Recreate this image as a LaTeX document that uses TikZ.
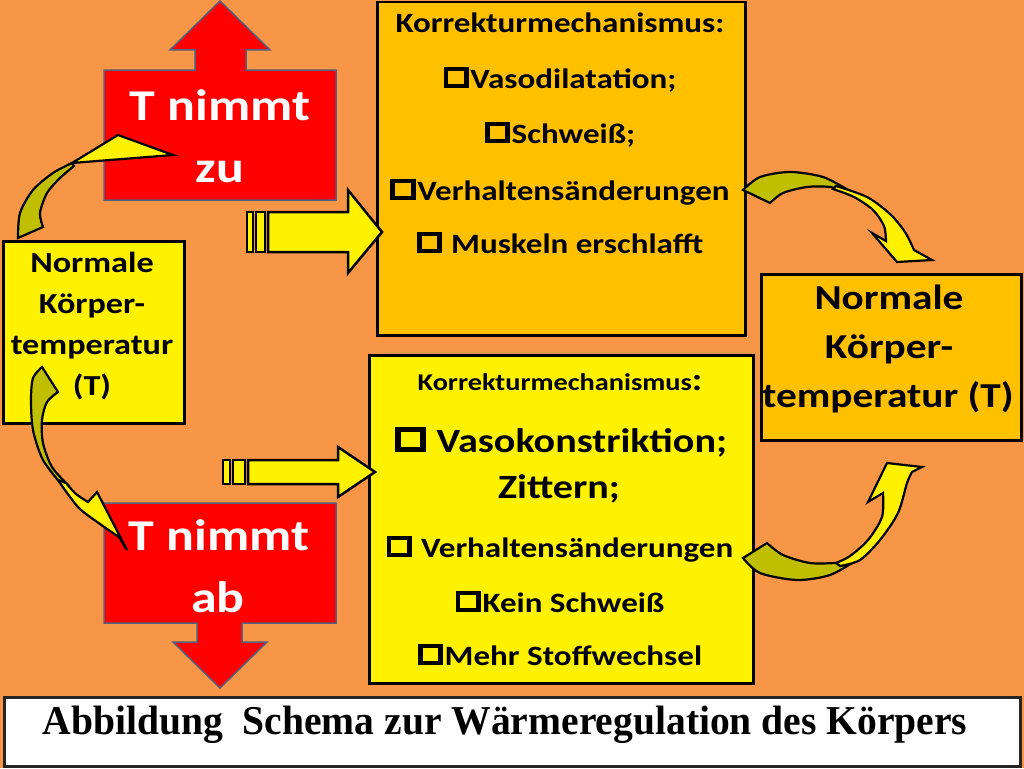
\documentclass[tikz,border=0pt]{standalone}
\usepackage{fontspec}
\setmainfont{Carlito}[FakeStretch=1.18]
\newfontfamily\capfont{Liberation Serif}[FakeStretch=0.965]
\newcommand\fs[1]{\fontsize{#1}{#1}\selectfont\bfseries}
\newcommand\sq{\hbox{\vrule width .17em height .74em\vbox{\hrule height .15em width .56em\vskip .44em\hrule height .15em width .56em}\vrule width .17em height .74em}\kern.06em}
\definecolor{bg}{RGB}{247,150,70}
\definecolor{amber}{RGB}{255,192,0}
\definecolor{bandolive}{RGB}{191,191,0}
\definecolor{redline}{RGB}{85,95,125}
\begin{document}
\begin{tikzpicture}[x=1pt,y=-1pt,
  box/.style={draw=black, line width=2.5pt, inner sep=0pt, anchor=north west},
  txt/.style={anchor=base, inner sep=0pt},
  redarrow/.style={fill=red, draw=redline, line width=1.5pt, line join=miter},
  flat/.style={fill=yellow, draw=black, line width=2.5pt, line join=miter},
  band/.style={draw=black, line width=2.2pt, line join=miter}]
\fill[bg] (0,0) rectangle (1024,768);
\useasboundingbox (0,0) rectangle (1024,768);

% boxes
\node[box, fill=amber, minimum width=368pt, minimum height=333pt] (topbox) at (376,1) {};
\node[box, fill=yellow, minimum width=384pt, minimum height=328pt] (botbox) at (368,354) {};
\node[box, fill=yellow, minimum width=181pt, minimum height=182pt] (leftbox) at (2,240) {};
\node[box, fill=amber, minimum width=260pt, minimum height=166pt] (rightbox) at (760,273) {};
\node[box, fill=white, draw=black!85, minimum width=1016pt, minimum height=69pt] (capbox) at (3,696) {};

% red block arrows
\draw[redarrow] (104,70) -- (195,70) -- (195,50) -- (170,50) -- (220,1) -- (270,50) -- (246,50) -- (246,70) -- (336,70) -- (336,200) -- (104,200) -- cycle;
\draw[redarrow] (104,503) -- (336,503) -- (336,623) -- (242,623) -- (242,642) -- (267,642) -- (220,688) -- (173,642) -- (197,642) -- (197,623) -- (104,623) -- cycle;

% striped arrows
\draw[flat] (247,212) rectangle (253,252);
\draw[flat] (256,212) rectangle (265,252);
\draw[flat] (268,212) -- (348,212) -- (348,190) -- (382,232) -- (348,273) -- (348,252) -- (268,252) -- cycle;
\draw[flat] (223,460) rectangle (230,484);
\draw[flat] (233,460) rectangle (245,484);
\draw[flat] (248,460) -- (338,460) -- (338,447) -- (375,472) -- (338,497) -- (338,484) -- (248,484) -- cycle;

% curved arrow 1 (left box -> T nimmt zu)
\filldraw[band, fill=bandolive] plot[smooth] coordinates {(18,238) (20,213) (33,190) (53,173) (72,163)} -- plot[smooth] coordinates {(74,166) (60,178) (47,193) (40,213) (43,227)} -- cycle;
\filldraw[band, fill=yellow] (72,163) -- (118,135) -- (173,155) -- cycle;

% curved arrow 2 (left box -> T nimmt ab)
\filldraw[band, fill=bandolive] plot[smooth] coordinates {(42,367) (33,378) (31,400) (33,430) (43,460) (62,485)} -- plot[smooth] coordinates {(68,485) (52,467) (43,443) (42,420) (47,402) (58,392)} -- cycle;
\filldraw[band, fill=yellow] plot[smooth] coordinates {(58,480) (78,507) (100,524) (119,537)} -- (127,550) -- (97,492) -- (88,502) -- plot[smooth] coordinates {(88,502) (76,494) (66,483)} -- cycle;

% curved arrow 3 (top box -> right box)
\filldraw[band, fill=bandolive] plot[smooth] coordinates {(743,190) (760,177) (790,172) (823,177) (848,190)} -- plot[smooth] coordinates {(846,192) (830,187) (807,187) (783,193) (770,203)} -- cycle;
\filldraw[band, fill=yellow] plot[smooth] coordinates {(836,186) (867,197) (890,214) (905,232) (914,250)} -- (932,260) -- (897,262) -- (872,233) -- (886,241) -- plot[smooth] coordinates {(886,241) (884,226) (873,210) (854,197) (833,189)} -- cycle;

% curved arrow 4 (bottom box -> right box)
\filldraw[band, fill=bandolive] plot[smooth] coordinates {(743,558) (760,573) (797,580) (830,575) (855,561)} -- plot[smooth] coordinates {(845,563) (837,563) (810,563) (783,555) (767,543)} -- cycle;
\filldraw[band, fill=yellow] plot[smooth] coordinates {(840,566) (860,560) (880,540) (898,513) (907,483) (912,472)} -- (922,467) -- (887,463) -- (868,502) -- (883,493) -- plot[smooth] coordinates {(883,493) (882,517) (868,540) (850,556) (836,563)} -- cycle;

% texts: red arrows
\node[txt, font=\fs{44}, text=white] (up1) at (220,120) {T nimmt};
\node[txt, font=\fs{44}, text=white] (up2) at (220,182) {zu};
\node[txt, font=\fs{44}, text=white] (dn1) at (219,550) {T nimmt};
\node[txt, font=\fs{44}, text=white] (dn2) at (218,612) {ab};

% left box
\node[txt, font=\fs{29}] (lb1) at (92,272) {Normale};
\node[txt, font=\fs{29}] (lb2) at (92,313) {Körper-};
\node[txt, font=\fs{29}] (lb3) at (92,354) {temperatur};
\node[txt, font=\fs{29}] (lb4) at (92,395) {(T)};

% top box
\node[txt, font=\fs{28}] (tb1) at (560,33) {Korrekturmechanismus:};
\node[txt, font=\fs{28}] (tb2) at (560,88) {\sq Vasodilatation;};
\node[txt, font=\fs{28}] (tb3) at (560,143) {\sq Schweiß;};
\node[txt, font=\fs{28}] (tb4) at (560,200) {\sq Verhaltensänderungen};
\node[txt, font=\fs{28}] (tb5) at (560,253) {\sq\ Muskeln erschlafft};

% bottom box
\node[txt, font=\fs{24}] (bb1) at (560,390) {Korrekturmechanismus{\fs{32}:}};
\node[txt, font=\fs{34}] (bb2) at (561,452) {\sq\ Vasokonstriktion;};
\node[txt, font=\fs{34}] (bb3) at (559,498) {Zittern;};
\node[txt, font=\fs{28}] (bb4) at (560,557) {\sq\ Verhaltensänderungen};
\node[txt, font=\fs{28}] (bb5) at (560,612) {\sq Kein Schweiß};
\node[txt, font=\fs{28}] (bb6) at (560,665) {\sq Mehr Stoffwechsel};

% right box
\node[txt, font=\fs{35}] (rb1) at (889,309) {Normale};
\node[txt, font=\fs{35}] (rb2) at (889,358) {Körper-};
\node[txt, font=\fs{35}] (rb3) at (888,407) {temperatur (T)};

% caption
\node[txt, font={\capfont\fs{41}}] (cap) at (505,734) {Abbildung\ \ Schema zur Wärmeregulation des Körpers};
\end{tikzpicture}
\end{document}
